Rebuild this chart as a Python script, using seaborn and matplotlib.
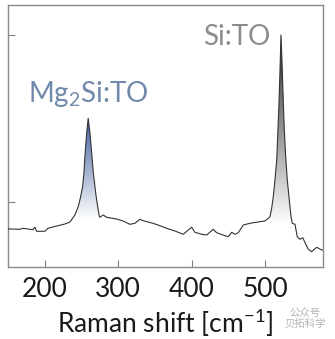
import numpy as np
import pandas as pd
import matplotlib
matplotlib.use("Agg")
import matplotlib.pyplot as plt
from matplotlib.colors import LinearSegmentedColormap
import seaborn as sns

# ---- data (Raman shift in cm^-1, intensity in arb. units)
shift = [150.0, 154.6, 165.9, 170.0, 183.6, 186.4, 188.7, 200.0, 204.1, 217.7,
         227.3, 234.1, 240.9, 245.4, 248.7, 251.4, 253.2, 254.5, 256.9, 259.0,
         261.4, 263.7, 265.9, 268.2, 270.5, 272.7, 274.0, 275.0, 279.5, 284.1,
         297.8, 306.4, 315.9, 322.7, 329.5, 334.0, 347.3, 356.8, 366.0, 377.3,
         388.6, 395.4, 400.0, 404.5, 413.7, 420.5, 429.5, 434.1, 445.5, 450.0,
         454.6, 459.1, 463.6, 470.4, 479.5, 493.2, 500.0, 504.5, 506.8, 509.1,
         511.3, 513.6, 516.0, 517.3, 519.1, 520.5, 521.8, 523.6, 525.0, 526.3,
         528.2, 530.4, 533.1, 535.5, 537.2, 540.9, 544.0, 547.7, 551.4, 559.0,
         563.7, 570.5, 577.3, 579.0]
intensity = [38.0, 38.0, 37.7, 38.7, 37.3, 39.7, 35.7, 35.7, 38.7, 41.3,
             43.0, 45.0, 52.0, 60.3, 70.3, 80.3, 94.0, 110.3, 134.0, 148.7,
             134.0, 114.0, 95.3, 80.3, 67.0, 57.0, 51.0, 49.7, 52.0, 49.7,
             48.0, 46.0, 42.7, 43.7, 47.7, 46.3, 43.7, 41.3, 38.7, 36.0,
             32.7, 37.0, 39.7, 34.7, 32.7, 32.0, 37.7, 34.3, 31.3, 30.3,
             34.7, 32.7, 34.3, 42.0, 43.7, 45.3, 46.0, 48.7, 50.3, 58.7,
             70.3, 87.0, 107.0, 130.3, 164.0, 197.0, 232.0, 197.0, 164.0, 137.0,
             110.3, 87.0, 67.0, 50.3, 43.7, 42.7, 30.3, 27.7, 29.3, 17.7,
             15.3, 19.7, 17.0, 17.0]

xticks = [200, 300, 400, 500]
yticks = [65, 232]
peak_labels = ["Mg$_2$Si:TO", "Si:TO"]
peak_ranges = [(241.0, 276.0), (505.0, 538.0)]
peak_bases = [48.0, 42.0]
peak_colors = ["#3f5f9f", "#2a2a2a"]
label_colors = ["#7189aa", "#8c8c8c"]
label_pos = [(176.8, 165.0), (415.5, 222.0)]
watermark = "公众号\n贝拓科学"

df = pd.DataFrame({"shift": shift, "intensity": intensity})

sns.set_theme(style="white")
plt.rcParams["font.family"] = ["Lato", "DejaVu Sans"]
plt.rcParams["mathtext.fontset"] = "custom"
plt.rcParams["mathtext.rm"] = "Lato"
plt.rcParams["mathtext.it"] = "Lato"
plt.rcParams["mathtext.default"] = "regular"

fig = plt.figure(figsize=(3.35, 3.39), dpi=100)
ax = fig.add_axes([7.5 / 335, 1 - 267 / 339, 315 / 335, (267 - 4.5) / 339])

sns.lineplot(data=df, x="shift", y="intensity", ax=ax, color="#333333",
             linewidth=0.8, zorder=3)

# gradient fills under the two peaks
x_arr = np.array(shift)
y_arr = np.array(intensity)
for (x0, x1), base, col in zip(peak_ranges, peak_bases, peak_colors):
    m = (x_arr >= x0) & (x_arr <= x1)
    xs, ys = x_arr[m], y_arr[m]
    poly = ax.fill_between(xs, ys, base, color="none", linewidth=0)
    cmap = LinearSegmentedColormap.from_list("g", ["#ffffff", col])
    grad = np.linspace(0, 1, 256).reshape(-1, 1)
    top = ys.max()
    im = ax.imshow(grad, cmap=cmap, aspect="auto", origin="lower",
                   extent=[xs.min(), xs.max(), base, top], zorder=2)
    path = poly.get_paths()[0]
    im.set_clip_path(path, transform=ax.transData)

for lab, (lx, ly), c in zip(peak_labels, label_pos, label_colors):
    ax.text(lx, ly, lab, color=c, fontsize=20, ha="left", va="baseline")

ax.set_xlim(149, 578.4)
ax.set_ylim(0, 262.5)
ax.set_xticks(xticks)
ax.set_xticklabels([str(t) for t in xticks])
ax.set_yticks(yticks)
ax.set_yticklabels([])
ax.tick_params(axis="both", direction="in", length=5, width=0.8,
               color="#808080", labelsize=19, pad=7, labelcolor="#1a1a1a")
ax.tick_params(axis="x", bottom=True)
ax.tick_params(axis="y", left=True)
for s in ax.spines.values():
    s.set_color("#8a8a8a")
    s.set_linewidth(1.0)
ax.set_xlabel("Raman shift [cm$^{-1}$]", fontsize=19, color="#1a1a1a",
              labelpad=4)
ax.set_ylabel("")

fig.text(326 / 335, 1 - 318 / 339, watermark, fontsize=7.5, linespacing=1.1,
         color="#a0a0a0", alpha=0.8, ha="right", va="center", ma="center",
         family=["Noto Sans CJK SC", "DejaVu Sans"])

fig.savefig("out.png", dpi=100)
